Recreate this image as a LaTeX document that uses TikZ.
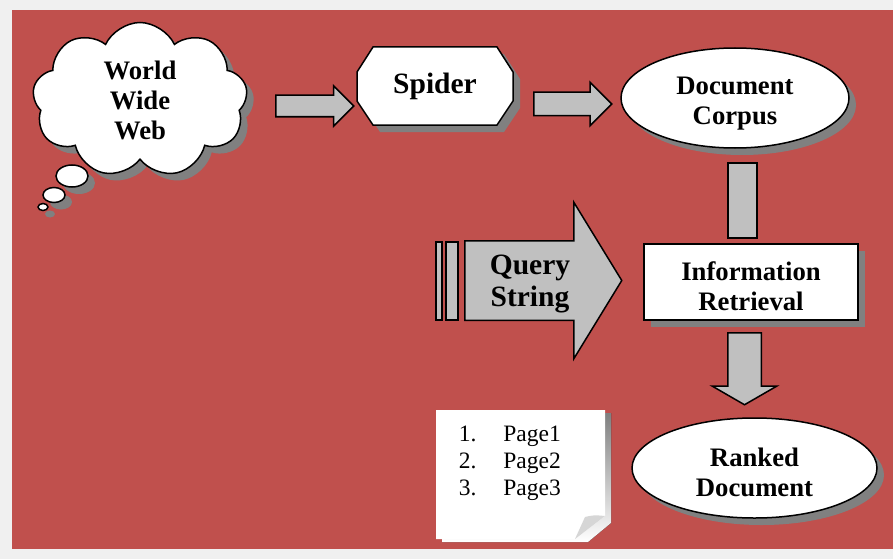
\documentclass[tikz,border=0pt]{standalone}
\usepackage{fontspec}
\setmainfont{Liberation Serif}
\usetikzlibrary{shapes.geometric,shapes.symbols,shapes.arrows,shadows}

\definecolor{slide}{HTML}{C0504D}
\definecolor{blockgray}{HTML}{C0C0C0}
\definecolor{shade}{HTML}{808080}
\definecolor{curl}{HTML}{D6D6D6}

\newcommand{\titlefont}{\bfseries\fontsize{26.7}{30}\selectfont}
\newcommand{\bigtitlefont}{\bfseries\fontsize{29.5}{32}\selectfont}
% taller first line, so the two lines sit a bit lower in their shape
\newcommand{\tallline}{\rule{0pt}{28pt}}

\begin{document}
\begin{tikzpicture}[x=1pt, y=-1pt, line width=1.5pt,
    shadowed/.style={drop shadow={shadow xshift=7pt, shadow yshift=-7pt, opacity=1, fill=shade}},
    box/.style={draw, fill=white, shadowed, font=\titlefont, align=center, inner sep=0pt},
    blockarrow/.style={single arrow, draw, fill=blockgray, inner xsep=0pt, anchor=tail},
    bar/.style={draw, fill=blockgray, inner sep=0pt}]
    \useasboundingbox (0,0) rectangle (893,559);
    % slide background
    \fill[gray!12] (0,0) rectangle (893,559);
    \fill[slide] (12,10) rectangle (893,549);

    % crawling
    \node[cloud, cloud puffs=9, cloud puff arc=130, aspect=1.3, box,
          minimum width=215pt, minimum height=155pt] (www) at (140,100) {World\\Wide\\Web};
    \draw[fill=white, shadowed] (72,176) ellipse [x radius=16, y radius=11];
    \draw[fill=white, shadowed] (54,195) ellipse [x radius=11, y radius=7.5];
    \draw[fill=white, shadowed] (43,207) ellipse [x radius=5, y radius=3.5];
    \node[blockarrow, minimum height=78pt, inner ysep=10pt,
          single arrow head extend=9.5pt] (toSpider) at (275,106) {};
    \draw[fill=white, shadowed, shift={(435,86)}]
        (-62,-39) -- (62,-39) -- (78,-14) -- (78,15) -- (62,39) -- (-62,39) -- (-78,15) -- (-78,-14) -- cycle;
    \node[font=\bigtitlefont, minimum width=156pt, minimum height=78pt] (spider) at (435,86) {Spider};
    \node[blockarrow, minimum height=78pt, inner ysep=11pt,
          single arrow head extend=10pt] (toCorpus) at (533,104) {};
    \node[ellipse, box, minimum width=228pt, minimum height=100pt] (corpus) at (735,98) {\tallline Document\\Corpus};

    % retrieval
    \node[bar, minimum width=29pt, minimum height=75pt] (feed) at (742.5,200.5) {};
    \node[rectangle, box, minimum width=214pt, minimum height=76pt] (ir) at (751,282) {\tallline Information\\Retrieval};
    \node[blockarrow, rotate=-90, minimum height=72pt, inner ysep=16pt,
          single arrow head extend=15.5pt, single arrow tip angle=120] (toRanked) at (744.5,332) {};
    \node[ellipse, box, minimum width=245pt, minimum height=100pt] (ranked) at (754.5,468) {\tallline Ranked\\Document};

    % query
    \draw[fill=blockgray] (436,242) rectangle (442,320);
    \draw[fill=blockgray] (446,242) rectangle (458,320);
    \node[blockarrow, minimum height=157pt, inner ysep=39pt,
          single arrow head extend=38.5pt, single arrow tip angle=117] (query) at (464,280.5) {};
    \node[font=\bigtitlefont, align=center] (querytext) at (530,284) {Query\\String};

    % result list on a curled page
    \fill[shade] (442,413) -- (611,413) -- (611,523) -- (588,542) -- (442,542) -- cycle;
    \fill[white] (436,410) -- (605,410) -- (605,516) -- (575,539) -- (436,539) -- cycle;
    \fill[curl] (605,516) .. controls (594,515) .. (585,517) -- (575,539) -- cycle;
    \node[anchor=base west, inner sep=0pt, font=\fontsize{23.5}{27}\selectfont] (results) at (458,441)
        {\begin{tabular}[t]{@{}l@{\hspace{27pt}}l@{}}1.&Page1\\2.&Page2\\3.&Page3\end{tabular}};
\end{tikzpicture}
\end{document}
